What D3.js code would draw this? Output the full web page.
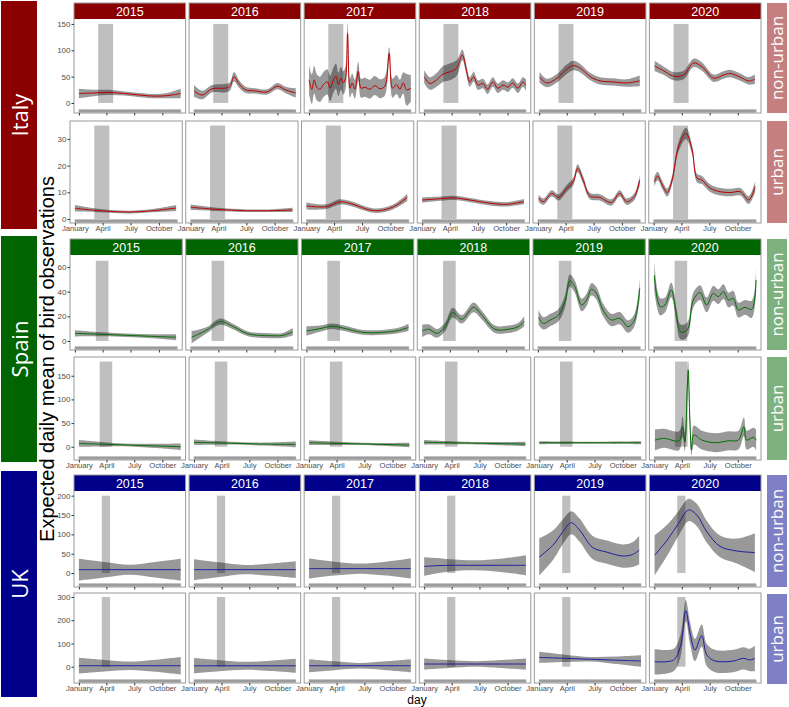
<!DOCTYPE html>
<html>
<head>
<meta charset="utf-8">
<script src="https://cdn.jsdelivr.net/npm/d3@7"></script>
<style>
  body { margin: 0; background: #fff; }
  text { font-family: "Liberation Sans", Arial, sans-serif; }
</style>
</head>
<body>
<svg id="chart" width="789" height="707"></svg>
<script>
// --------------------------------------------------------------------------------------
// data: per panel knots [day of year, mean, half width of CI]
// --------------------------------------------------------------------------------------
var years = [2015, 2016, 2017, 2018, 2019, 2020];
var countries = ["Italy", "Spain", "UK"];
var habitats = ["non-urban", "urban"];
var monthDays = [1, 91, 182, 274];
var monthLabels = ["January", "April", "July", "October"];
var lockdownStart = [64, 69, 76];
var lockdownEnd = [113, 110, 103];
var rugRange = [1, 334];

// y limits and tick labels per row (Italy nu, Italy u, Spain nu, Spain u, UK nu, UK u)
var yLimits = [[-19, 159.4], [-1.5, 36.7], [-7.3, 69.7], [-28, 189.6], [-36, 212], [-70, 317]];
var yTicks = [[0, 50, 100, 150], [0, 10, 20, 30], [0, 20, 40, 60], [0, 50, 100, 150], [0, 50, 100, 150, 200], [0, 100, 200, 300]];
var bandTop = [150, 35, 65, 180, 200, 300];

var italyNonUrban = [
  [[1,18,9],[50,19,6],[100,20,5],[150,18,4],[200,15,4],[250,13,4],[290,14,5],[334,18,9]],
  [[1,23,11],[28,15,8],[60,27,7],[100,28,8],[118,31,8],[132,50,9],[150,35,7],[170,25,6],[200,23,5],[240,21,5],[274,32,6],[300,25,6],[334,19,9]],
  [[1,44,28],[10,26,28],[18,44,26],[26,30,25],[37,26,24],[48,35,24],[61,40,24],[70,28,24],[81,44,24],[89,51,24],[97,35,22],[105,47,22],[113,38,22],[121,50,22],[127,132,20],[135,28,18],[142,38,18],[151,26,18],[162,60,18],[171,28,18],[184,30,18],[200,26,18],[216,33,18],[233,27,18],[249,32,18],[263,94,12],[274,28,18],[287,35,18],[298,26,18],[309,38,20],[320,25,30],[334,28,25]],
  [[1,50,12],[20,37,12],[42,44,13],[63,55,15],[85,59,16],[107,66,15],[126,91,10],[139,63,9],[150,40,9],[163,50,9],[177,34,9],[194,37,9],[208,26,9],[226,40,9],[242,28,9],[259,34,9],[275,30,9],[291,38,9],[308,28,9],[324,40,9],[334,34,11]],
  [[2,49,10],[26,38,8],[59,47,8],[91,64,9],[113,71,9],[135,66,8],[168,50,7],[200,42,7],[243,40,7],[287,38,7],[330,42,10]],
  [[2,70,10],[32,61,8],[64,51,8],[97,53,8],[129,76,8],[157,69,8],[195,47,7],[227,53,7],[249,56,7],[282,49,7],[309,42,7],[330,45,9]]
];
var italyUrban = [
  [[1,4,1.2],[82,3.1,0.6],[179,2.6,0.5],[254,3.1,0.6],[330,4.1,1.1]],
  [[1,4.4,1],[86,3.6,0.6],[183,3.1,0.5],[259,3.1,0.5],[332,3.4,0.8]],
  [[1,4.9,1.3],[66,4.6,0.9],[109,6.4,1],[141,5.9,0.9],[222,3.1,0.8],[281,4.4,0.9],[329,8.1,1.4]],
  [[1,7.1,1],[50,7.5,0.8],[103,7.9,0.8],[157,7.1,0.8],[222,5.9,0.8],[276,5.5,0.8],[332,6.5,1]],
  [[3,7.8,1.3],[19,6.5,1.2],[46,9.6,1.2],[68,8.1,1.2],[95,11.5,1.3],[116,14,1.4],[130,19,1.5],[148,14.6,1.4],[170,8.6,1.2],[202,8.1,1.2],[240,6.2,1.2],[267,9.6,1.2],[289,6.5,1.2],[315,8.4,1.3],[332,14.6,2]],
  [[3,14,1.8],[14,16.1,1.6],[29,12.7,1.5],[45,9.9,1.5],[61,14.6,1.6],[82,27.1,1.8],[106,32.1,2.2],[126,25.9,1.8],[142,15.3,1.6],[158,14.6,1.5],[185,11.5,1.4],[218,10.2,1.4],[250,9.9,1.4],[283,10.2,1.4],[310,7.1,1.5],[331,12.1,2]]
];
var spainNonUrban = [
  [[1,6.2,2.5],[90,5.4,1.6],[168,4.6,1.4],[250,3.8,1.6],[330,3,2.5]],
  [[4,3,5],[54,8.9,2.5],[97,15.7,2.5],[140,11.6,2.2],[183,6.2,2],[221,4.6,2],[260,4.3,2],[300,4.5,2],[333,7.5,3]],
  [[1,8.1,3.8],[45,10,2.5],[85,12,2.2],[120,10.5,2.2],[184,7,2],[249,7,2],[300,8.5,2.2],[333,11,3]],
  [[1,8.1,5],[22,9.5,4],[50,6.2,3.5],[76,11.6,3.5],[100,23,4],[130,17.6,3.5],[168,27.3,4],[195,21,3.5],[238,9.5,3],[281,9.5,3],[313,11.6,3],[333,16,4]],
  [[3,19.2,6],[19,14.3,5],[41,17,5],[68,21,5],[89,31.9,5],[105,48.9,5],[121,44,5],[143,29.2,5],[159,33.2,5],[175,41.9,5],[191,38.7,5],[213,25.1,5],[240,17,5],[267,18.4,5],[294,11.6,5],[315,17,5],[332,42.7,8]],
  [[3,53,12],[22,27.8,7],[38,29.2,6],[58,41.4,6],[76,19.7,6],[87,7.6,6],[103,7.6,6],[114,10.8,6],[130,33.2,6],[152,39.2,6],[173,29.2,6],[195,38.7,6],[211,35.9,6],[228,40,6],[244,33.2,6],[260,34.6,6],[276,25.1,6],[298,27.3,6],[320,25.7,7],[334,49.5,10]]
];
var spainUrban = [
  [[1,7,7],[84,5.2,4.5],[168,3.5,3],[251,1.8,4.5],[334,0,7]],
  [[1,9.3,6],[120,7.5,3],[221,5.7,3],[334,5,6]],
  [[1,8.5,5],[168,6,2.5],[329,3.6,5]],
  [[1,9.3,5],[168,7.5,2.5],[332,5.7,5]],
  [[1,8.5,3],[168,8.5,2],[334,8.5,3]],
  [[3,14,22],[32,17.8,20],[82,12.7,20],[93,42,22],[101,10.6,20],[109,127,20],[112,162,18],[117,63,20],[123,-7,11],[130,24.7,20],[157,14,20],[201,8.5,20],[244,12.7,20],[276,14,20],[294,42,20],[303,14,20],[325,20,20],[334,14,22]]
];
var ukNonUrban = [
  [[1,8.8,28],[84,8.8,20],[168,8.8,13],[251,8.8,20],[334,8.8,28]],
  [[1,8.8,27],[84,8.8,19],[168,8.8,12],[251,8.8,16],[334,8.8,22]],
  [[1,11.4,26],[84,11.4,18],[168,11.4,13],[251,11.4,18],[334,11.4,26]],
  [[1,17,24],[40,19,20],[84,20,16],[168,20,13],[251,20,17],[334,20,26]],
  [[1,41.6,48],[46,72,38],[78,106.5,32],[106,130,30],[133,111,30],[176,66,30],[220,54.5,30],[274,44,30],[306,47.8,32],[328,59,37]],
  [[2,46,52],[43,85,40],[80,128,32],[113,163,29],[140,150,29],[173,106.5,28],[216,69,28],[271,57,32],[330,53,50]]
];
var ukUrban = [
  [[1,4.3,34],[84,4.3,25],[168,4.3,18],[251,4.3,26],[334,4.3,38]],
  [[1,4,33],[84,4,24],[168,4,17],[251,4,22],[334,4,30]],
  [[1,4.3,28],[84,4.3,19],[168,4.3,12],[251,4.3,19],[334,4.3,28]],
  [[1,11.6,24],[84,11.6,17],[168,11.6,12],[251,11.6,17],[334,11.6,24]],
  [[1,40,24],[84,36,16],[168,32,10],[251,28,16],[334,24.6,25]],
  [[2,21.6,55],[64,29,48],[86,86,48],[104,241,46],[118,144,48],[134,72,48],[156,134,48],[173,50,48],[200,24.6,48],[260,24.6,48],[292,36,48],[314,29,48],[330,36,55]]
];

var rowData = [italyNonUrban, italyUrban, spainNonUrban, spainUrban, ukNonUrban, ukUrban];

// --------------------------------------------------------------------------------------
// colours and layout
// --------------------------------------------------------------------------------------
var stripColors = ["#8B0000", "#006400", "#00008B"];
var lightColors = ["#C57F7F", "#7FB17F", "#7F7FC5"];
var lineColors = ["#C00000", "#007000", "#1F1FA0"];

var dayDomain = [-15, 350];
var right = 761, gap = 3.5;

// panel rows: top, bottom, left, right strip top/bottom
var rowLayout = [
  { top: 19,  bottom: 113, left: 74, sTop: 3,   sBottom: 113 },
  { top: 121, bottom: 223, left: 70, sTop: 121, sBottom: 223 },
  { top: 255, bottom: 350, left: 70, sTop: 239, sBottom: 350 },
  { top: 357, bottom: 460, left: 74, sTop: 357, sBottom: 460 },
  { top: 491, bottom: 587, left: 74, sTop: 475, sBottom: 587 },
  { top: 593, bottom: 683, left: 74, sTop: 594, sBottom: 684 }
];
// country blocks: left strip top/bottom, year header top
var countryLayout = [
  { y0: 1,   y1: 229, header: 3 },
  { y0: 236, y1: 462, header: 239 },
  { y0: 471, y1: 697, header: 475 }
];

var svg = d3.select("#chart");

// --------------------------------------------------------------------------------------
// country strips on the left
countries.forEach(function(c, ci) {
  var cl = countryLayout[ci];
  svg.append("rect")
     .attr("x", 1).attr("y", cl.y0)
     .attr("width", 36).attr("height", cl.y1 - cl.y0)
     .style("fill", stripColors[ci]);
  svg.append("text")
     .attr("transform", "translate(28," + ((cl.y0 + cl.y1) / 2) + ") rotate(-90)")
     .attr("text-anchor", "middle")
     .style("font-family", "'Open Sans', sans-serif")
     .style("font-size", "22px")
     .style("fill", "white")
     .text(c);
});

// y axis title
svg.append("text")
   .attr("transform", "translate(54,359) rotate(-90)")
   .attr("text-anchor", "middle")
   .style("font-size", "20px")
   .style("fill", "black")
   .text("Expected daily mean of bird observations");

// x axis title
svg.append("text")
   .attr("x", 417).attr("y", 704)
   .attr("text-anchor", "middle")
   .style("font-size", "12px")
   .style("fill", "black")
   .text("day");

// --------------------------------------------------------------------------------------
// panels
rowData.forEach(function(panels, ri) {
  var ci = Math.floor(ri / 2);
  var hi = ri % 2;
  var lay = rowLayout[ri];
  var pw = (right - lay.left - 5 * gap) / 6;
  var y = d3.scaleLinear().domain(yLimits[ri]).range([lay.bottom, lay.top]);

  // habitat strip on the right
  svg.append("rect")
     .attr("x", 767).attr("y", lay.sTop)
     .attr("width", 20).attr("height", lay.sBottom - lay.sTop)
     .style("fill", lightColors[ci]);
  svg.append("text")
     .attr("transform", "translate(783," + ((lay.sTop + lay.sBottom) / 2) + ") rotate(-90)")
     .attr("text-anchor", "middle")
     .style("font-family", "'Open Sans', sans-serif")
     .style("font-size", "17px")
     .style("fill", "white")
     .text(habitats[hi]);

  panels.forEach(function(knots, k) {
    var px = lay.left + k * (pw + gap);
    var x = d3.scaleLinear().domain(dayDomain).range([px, px + pw]);
    var g = svg.append("g");
    var clipId = "clip" + ri + "_" + k;

    g.append("clipPath").attr("id", clipId)
     .append("rect")
     .attr("x", px).attr("y", lay.top)
     .attr("width", pw).attr("height", lay.bottom - lay.top);

    // year header on top rows only
    if(hi == 0) {
      var ht = countryLayout[ci].header;
      g.append("rect")
       .attr("x", px).attr("y", ht)
       .attr("width", pw).attr("height", lay.top - ht)
       .style("fill", stripColors[ci]);
      g.append("text")
       .attr("x", px + pw / 2).attr("y", (ht + lay.top) / 2 + 4.5)
       .attr("text-anchor", "middle")
       .style("font-size", "12.5px")
       .style("fill", "white")
       .text(years[k]);
    }

    var inner = g.append("g").attr("clip-path", "url(#" + clipId + ")");

    // lockdown period
    inner.append("rect")
         .attr("x", x(lockdownStart[ci]))
         .attr("width", x(lockdownEnd[ci]) - x(lockdownStart[ci]))
         .attr("y", y(bandTop[ri]))
         .attr("height", y(0) - y(bandTop[ri]))
         .style("fill", "black")
         .style("fill-opacity", 0.25);

    // confidence ribbon
    var area = d3.area()
                 .x(function(d) { return x(d[0]); })
                 .y0(function(d) { return y(d[1] - d[2]); })
                 .y1(function(d) { return y(d[1] + d[2]); })
                 .curve(d3.curveCatmullRom.alpha(0.5));
    inner.append("path")
         .datum(knots)
         .attr("d", area)
         .style("fill", "black")
         .style("fill-opacity", 0.4);

    // fitted mean
    var line = d3.line()
                 .x(function(d) { return x(d[0]); })
                 .y(function(d) { return y(d[1]); })
                 .curve(d3.curveCatmullRom.alpha(0.5));
    inner.append("path")
         .datum(knots)
         .attr("d", line)
         .style("fill", "none")
         .style("stroke", lineColors[ci])
         .style("stroke-width", 1);

    // rug of observation days
    g.append("g")
     .selectAll("line")
     .data(d3.range(rugRange[0], rugRange[1] + 1))
     .enter()
     .append("line")
     .attr("x1", function(d) { return x(d); })
     .attr("x2", function(d) { return x(d); })
     .attr("y1", lay.bottom - 0.5)
     .attr("y2", lay.bottom - 3.5)
     .style("stroke", "#666")
     .style("stroke-opacity", 0.55)
     .style("stroke-width", 0.5);

    // panel border
    g.append("rect")
     .attr("x", px).attr("y", hi == 0 ? countryLayout[ci].header : lay.top)
     .attr("width", pw)
     .attr("height", lay.bottom - (hi == 0 ? countryLayout[ci].header : lay.top))
     .style("fill", "none")
     .style("stroke", "#9a9a9a")
     .style("stroke-width", 1);

    // x axis
    var xa = g.append("g")
              .attr("transform", "translate(0," + lay.bottom + ")")
              .call(d3.axisBottom(x)
                      .tickValues(monthDays)
                      .tickSize(2.5)
                      .tickFormat(function(d, i) { return monthLabels[i]; }));
    xa.select(".domain").remove();
    xa.selectAll("line").style("stroke", "#333");
    xa.selectAll("text")
      .attr("y", 3)
      .style("font-family", "'Liberation Sans', Arial, sans-serif")
      .style("font-size", "7.6px")
      .style("fill", "#4d4d4d");
    if(hi == 0)
      xa.selectAll("text").remove();

    // y axis on first column
    if(k == 0) {
      var ya = g.append("g")
                .attr("transform", "translate(" + px + ",0)")
                .call(d3.axisLeft(y).tickValues(yTicks[ri]).tickSize(2.5).tickFormat(d3.format("d")));
      ya.select(".domain").remove();
      ya.selectAll("line").style("stroke", "#333");
      ya.selectAll("text")
        .attr("x", -3.5)
        .style("font-family", "'Liberation Sans', Arial, sans-serif")
        .style("font-size", "8px")
        .style("fill", "#4d4d4d");
    }
  });
});
</script>
</body>
</html>
